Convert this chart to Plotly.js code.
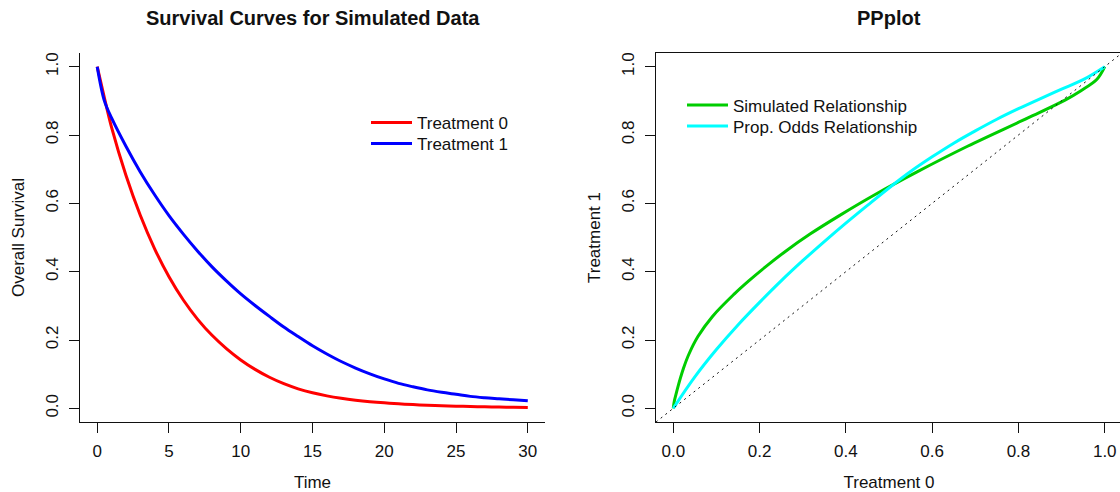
<!DOCTYPE html>
<html>
<head>
<meta charset="utf-8">
<script src="https://cdn.plot.ly/plotly-3.0.1.min.js"></script>
<style>
  html, body { margin: 0; padding: 0; background: #fff; overflow: hidden; }
  #chart { width: 1122px; height: 492px; }
</style>
</head>
<body>
<div id="chart"></div>
<script>
// Survival over time for the two treatment arms
const time = [0, 0.5, 1, 2, 3, 4, 5, 6, 7, 8, 9, 10, 11, 12, 13, 14, 15, 16, 17, 18, 19, 20,
              21, 22, 23, 24, 25, 26, 27, 28, 29, 30];
const survTreat0 = [1.0, 0.909, 0.822, 0.682, 0.565, 0.467, 0.385, 0.317, 0.2605, 0.2137, 0.1749,
                    0.1417, 0.114, 0.0909, 0.0721, 0.0571, 0.0455, 0.0364, 0.0294, 0.0239, 0.0195,
                    0.016, 0.0132, 0.0109, 0.0091, 0.0075, 0.0063, 0.0052, 0.0044, 0.0037, 0.0031, 0.0026];
const survTreat1 = [1.0, 0.9, 0.85, 0.767, 0.692, 0.625, 0.564, 0.51, 0.46, 0.414, 0.373,
                    0.335, 0.301, 0.269, 0.238, 0.21, 0.183, 0.159, 0.137, 0.118, 0.101,
                    0.086, 0.073, 0.063, 0.054, 0.047, 0.041, 0.035, 0.031, 0.028, 0.025, 0.022];

// P-P relationship: survival under treatment 0 against treatment 1
const simT0 = [0, 0.0026, 0.0063, 0.016, 0.0239, 0.0364, 0.0571, 0.0909, 0.1417, 0.1749, 0.2137,
               0.2605, 0.317, 0.385, 0.467, 0.565, 0.682, 0.822, 0.909, 0.944, 0.982, 1.0];
const simT1 = [0, 0.022, 0.041, 0.086, 0.118, 0.159, 0.21, 0.269, 0.335, 0.373, 0.414,
               0.46, 0.51, 0.564, 0.625, 0.692, 0.767, 0.85, 0.903, 0.929, 0.963, 1.0];
const poT0 = [0, 0.05, 0.1, 0.15, 0.2, 0.25, 0.3, 0.35, 0.4, 0.45, 0.5,
              0.55, 0.6, 0.65, 0.7, 0.75, 0.8, 0.85, 0.9, 0.95, 1.0];
const poT1 = [0, 0.092, 0.172, 0.244, 0.31, 0.373, 0.432, 0.488, 0.542, 0.594, 0.645,
              0.693, 0.736, 0.776, 0.812, 0.846, 0.877, 0.906, 0.934, 0.962, 1.0];

const timeTicks = [0, 5, 10, 15, 20, 25, 30];
const probTicks = [0, 0.2, 0.4, 0.6, 0.8, 1.0];

const FONT = 'Liberation Sans, Arial, Helvetica, sans-serif';
const INK = '#111111';
const W = 1122, H = 492;
const M = { l: 80, r: 0, t: 53, b: 70 };
const PW = W - M.l - M.r, PH = H - M.t - M.b;
// pixel position -> paper fraction of the plotting area
const px = v => (v - M.l) / PW;
const py = v => (H - M.b - v) / PH;

const lineStyle = color => ({ color: color, width: 3, shape: 'spline', smoothing: 1 });

const traces = [
  { x: time, y: survTreat0, type: 'scatter', mode: 'lines', name: 'Treatment 0',
    line: lineStyle('#FF0000'), xaxis: 'x', yaxis: 'y', legend: 'legend' },
  { x: time, y: survTreat1, type: 'scatter', mode: 'lines', name: 'Treatment 1',
    line: lineStyle('#0000FF'), xaxis: 'x', yaxis: 'y', legend: 'legend2' },
  { x: simT0, y: simT1, type: 'scatter', mode: 'lines', name: 'Simulated Relationship',
    line: lineStyle('#00CD00'), xaxis: 'x2', yaxis: 'y2', legend: 'legend3' },
  { x: poT0, y: poT1, type: 'scatter', mode: 'lines', name: 'Prop. Odds Relationship',
    line: lineStyle('#00FFFF'), xaxis: 'x2', yaxis: 'y2', legend: 'legend4' }
];

const probRange = [-0.04, 1.04];
const BASE = 17;
const textFont = { family: FONT, size: BASE, color: INK };
const mainFont = { family: FONT, size: 20, color: INK };

function axisBase(extra) {
  return Object.assign({
    showgrid: false, zeroline: false, showline: true, linecolor: INK, linewidth: 1,
    ticks: 'outside', ticklen: 10, tickwidth: 1, tickcolor: INK,
    tickfont: textFont, ticklabelstandoff: 4,
    automargin: false, fixedrange: true
  }, extra);
}

// one legend box per entry so each row sits at its own height
function legendAt(left, rowCenter) {
  return {
    x: px(left), y: py(rowCenter - 18), xanchor: 'left', yanchor: 'top',
    bgcolor: 'rgba(0,0,0,0)', borderwidth: 0, itemwidth: 41,
    font: textFont, tracegroupgap: 0
  };
}

const layout = {
  width: W, height: H,
  margin: { l: M.l, r: M.r, t: M.t, b: M.b, pad: 0 },
  paper_bgcolor: '#ffffff', plot_bgcolor: '#ffffff',
  font: textFont,
  showlegend: true,
  xaxis: axisBase({
    domain: [0, px(545)], range: [-1.2, 31.2], tickvals: timeTicks,
    ticktext: timeTicks.map(String),
    title: { text: 'Time', font: textFont, standoff: 21 }, anchor: 'y'
  }),
  yaxis: axisBase({
    domain: [0, 1], range: probRange, tickvals: probTicks,
    ticktext: probTicks.map(v => v.toFixed(1)), tickangle: -90,
    title: { text: 'Overall Survival', font: textFont, standoff: 14 }, anchor: 'x'
  }),
  xaxis2: axisBase({
    domain: [px(656), 1], range: probRange, tickvals: probTicks,
    ticktext: probTicks.map(v => v.toFixed(1)), mirror: true,
    title: { text: 'Treatment 0', font: textFont, standoff: 21 }, anchor: 'y2'
  }),
  yaxis2: axisBase({
    domain: [0, 1], range: probRange, tickvals: probTicks,
    ticktext: probTicks.map(v => v.toFixed(1)), tickangle: -90, mirror: true,
    title: { text: 'Treatment 1', font: textFont, standoff: 14 }, anchor: 'x2'
  }),
  legend: legendAt(366, 123),
  legend2: legendAt(366, 144),
  legend3: legendAt(682, 105.5),
  legend4: legendAt(682, 126.5),
  shapes: [
    // identity reference line y = x across the P-P panel
    { type: 'line', xref: 'x2', yref: 'y2', x0: probRange[0], y0: probRange[0],
      x1: probRange[1], y1: probRange[1], line: { color: INK, width: 1, dash: '2px,4px' } }
  ],
  annotations: [
    { text: '<b>Survival Curves for Simulated Data</b>', xref: 'paper', yref: 'paper',
      x: px(312.5), y: py(18), xanchor: 'center', yanchor: 'middle', showarrow: false,
      font: mainFont },
    { text: '<b>PPplot</b>', xref: 'paper', yref: 'paper',
      x: px(889), y: py(18), xanchor: 'center', yanchor: 'middle', showarrow: false,
      font: mainFont }
  ]
};

Plotly.newPlot('chart', traces, layout, { displayModeBar: false, staticPlot: true });
</script>
</body>
</html>
